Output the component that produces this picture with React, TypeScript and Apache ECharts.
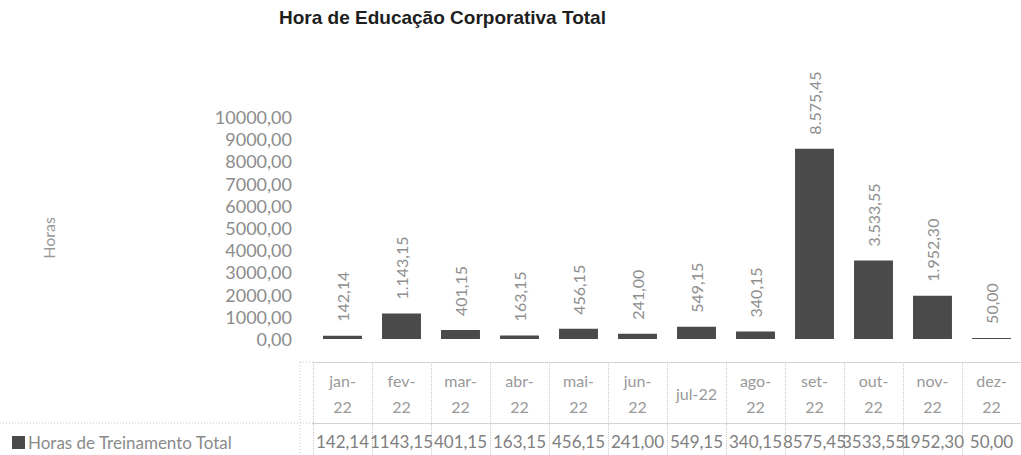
import React, { useEffect, useRef } from "react";
import * as echarts from "echarts";

const categories = ["jan-\n22", "fev-\n22", "mar-\n22", "abr-\n22", "mai-\n22", "jun-\n22", "jul-22", "ago-\n22", "set-\n22", "out-\n22", "nov-\n22", "dez-\n22"];
const values = [142.14, 1143.15, 401.15, 163.15, 456.15, 241.0, 549.15, 340.15, 8575.45, 3533.55, 1952.3, 50.0];
const seriesName = "Horas de Treinamento Total";
const yAxisName = "Horas";
const yTicks = { min: 0, max: 10000, interval: 1000 };

const FONT = "Lato, 'DejaVu Sans', sans-serif";

function fmtBR(v: number, thousands: boolean): string {
  const [int, dec] = v.toFixed(2).split(".");
  const i = thousands ? int.replace(/\B(?=(\d{3})+(?!\d))/g, ".") : int;
  return i + "," + dec;
}

const tableValues = values.map((v) => fmtBR(v, false));

export default function App() {
  const ref = useRef<HTMLDivElement>(null);
  useEffect(() => {
    if (!ref.current) return;
    const chart = echarts.init(ref.current, undefined, { renderer: "svg" });
    const lineColor = "#c9c9c9";
    chart.setOption({
      animation: false,
      backgroundColor: "#ffffff",
      title: {
        text: "Hora de Educação Corporativa Total",
        left: 274,
        top: 3,
        textStyle: { fontFamily: "'Liberation Sans', Arial, sans-serif", fontSize: 19, fontWeight: "bold", color: "#1e1e1e" },
      },
      legend: {
        left: 12,
        top: 434,
        padding: 0,
        itemWidth: 13,
        itemHeight: 13,
        itemGap: 4,
        icon: "rect",
        textStyle: { fontFamily: FONT, fontSize: 17, color: "#8a8a8a", padding: [0, 0, 0, -2] },
        data: [seriesName],
      },
      grid: { left: 313, right: 0, top: 117, bottom: 116, containLabel: false },
      xAxis: [
        {
          type: "category",
          data: categories,
          axisLine: { show: false },
          axisTick: { show: false },
          axisLabel: { show: false },
        },
        {
          type: "category",
          data: categories,
          position: "bottom",
          offset: 23,
          axisLine: { show: true, lineStyle: { color: lineColor, type: "dotted" } },
          axisTick: { show: true, length: 93, lineStyle: { color: lineColor, type: "dotted" } },
          axisLabel: {
            margin: 31,
            verticalAlign: "middle",
            lineHeight: 26,
            fontFamily: FONT,
            fontSize: 16,
            color: "#999999",
            interval: 0,
          },
        },
        {
          type: "category",
          data: tableValues,
          position: "bottom",
          offset: 84,
          axisLine: { show: true, lineStyle: { color: lineColor, type: "dotted" } },
          axisTick: { show: false },
          axisLabel: {
            margin: 18,
            verticalAlign: "middle",
            fontFamily: FONT,
            fontSize: 17,
            color: "#808080",
            interval: 0,
          },
        },
      ],
      yAxis: {
        type: "value",
        min: yTicks.min,
        max: yTicks.max,
        interval: yTicks.interval,
        axisLine: { show: false },
        axisTick: { show: false },
        splitLine: { show: false },
        axisLabel: {
          margin: 21,
          fontFamily: FONT,
          fontSize: 18,
          color: "#8c8c8c",
          formatter: (v: number) => fmtBR(v, false),
        },
      },
      graphic: [
        {
          type: "text",
          x: 48,
          y: 238,
          rotation: Math.PI / 2,
          style: {
            text: yAxisName,
            font: "16px Lato, sans-serif",
            fill: "#9a9a9a",
            align: "center",
            verticalAlign: "middle",
          },
        },
        {
          type: "line",
          shape: { x1: 0, y1: 423, x2: 313, y2: 423 },
          style: { stroke: lineColor, lineWidth: 1, lineDash: [1, 2] },
        },
        {
          type: "line",
          shape: { x1: 300, y1: 362, x2: 313, y2: 362 },
          style: { stroke: lineColor, lineWidth: 1, lineDash: [1, 2] },
        },
        {
          type: "line",
          shape: { x1: 300, y1: 362, x2: 300, y2: 455 },
          style: { stroke: lineColor, lineWidth: 1, lineDash: [1, 2] },
        },
      ],
      series: [
        {
          name: seriesName,
          type: "bar",
          xAxisIndex: 0,
          data: values,
          barWidth: "66%",
          itemStyle: { color: "#4a4a4a" },
          label: {
            show: true,
            position: "top",
            rotate: 90,
            align: "left",
            verticalAlign: "middle",
            distance: 14,
            fontFamily: FONT,
            fontSize: 16,
            color: "#8f8f8f",
            formatter: (p: any) => fmtBR(p.value, true),
          },
        },
      ],
    });
    return () => chart.dispose();
  }, []);
  return (
    <div
      ref={ref}
      style={{ position: "absolute", left: 0, top: 0, width: 1021, height: 455 }}
    />
  );
}
